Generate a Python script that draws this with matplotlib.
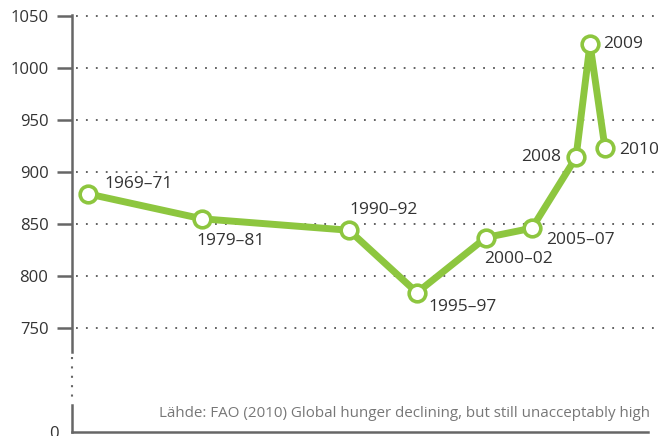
import numpy as np
import matplotlib
matplotlib.use('Agg')
import matplotlib.pyplot as plt

plt.rcParams['font.family'] = ['Open Sans', 'DejaVu Sans']

# undernourished people in the world, millions
periods = ['1969–71', '1979–81', '1990–92', '1995–97', '2000–02',
           '2005–07', '2008', '2009', '2010']
xpos = [16, 130, 277, 345, 414, 460, 504, 518, 533]
hungry = [879, 855, 844, 784, 837, 846, 914, 1023, 923]
yticks = [750, 800, 850, 900, 950, 1000, 1050]

# label offsets in pixels (dx, dy, ha, va)
label_pos = [(16, 2, 'left', 'bottom'), (-6, -14, 'left', 'top'),
             (0, 12, 'left', 'bottom'), (11, -6, 'left', 'top'),
             (-2, -13, 'left', 'top'), (14, -4, 'left', 'top'),
             (-15, 0, 'right', 'center'), (13, 0, 'left', 'center'),
             (14, -2, 'left', 'center')]

green = '#8dc63f'
axcol = '#666666'
txtcol = '#333333'

fig = plt.figure(figsize=(6.58, 4.36), dpi=100)
ax = fig.add_axes([72 / 658, 4 / 436, 583 / 658, 416 / 436])
ax.set_xlim(0, 583)
ax.set_ylim(650, 1050)

for v in yticks:
    ax.plot([4, 583], [v, v], color='#555555', lw=1.3, ls=(0, (1, 4.5)),
            clip_on=False, zorder=1)

ax.plot(xpos, hungry, color=green, lw=5, marker='o', ms=12,
        mfc='white', mec=green, mew=2.6, zorder=3, solid_joinstyle='round')

for x, y, lab, (dx, dy, ha, va) in zip(xpos, hungry, periods, label_pos):
    ax.annotate(lab, (x, y), xytext=(dx, dy), textcoords='offset pixels',
                ha=ha, va=va, fontsize=12.5, color=txtcol)

# broken y axis
for s in ['top', 'right', 'left']:
    ax.spines[s].set_visible(False)
ax.spines['bottom'].set_color(axcol)
ax.spines['bottom'].set_linewidth(1.8)
ax.spines['bottom'].set_bounds(0, 576)
ax.plot([0, 0], [1051, 727], color=axcol, lw=1.8, clip_on=False)
ax.plot([0, 0], [722, 679], color=axcol, lw=1.5, ls=(0, (1, 3.5)), clip_on=False)
ax.plot([0, 0], [676, 650], color=axcol, lw=1.8, clip_on=False)

ax.set_xticks([])
ax.set_yticks(yticks)
ax.set_yticklabels([str(v) for v in yticks])
ax.tick_params(axis='y', length=11, width=1.8, color=axcol, pad=6,
               labelsize=12, labelcolor=txtcol)
ax.text(-13, 648, '0', ha='right', va='center', fontsize=12, color=txtcol,
        clip_on=False)

ax.text(578, 661, 'Lähde: FAO (2010) Global hunger declining, but still unacceptably high',
        ha='right', va='bottom', fontsize=10.9, color='#777777')

fig.savefig('out.png', dpi=100)
